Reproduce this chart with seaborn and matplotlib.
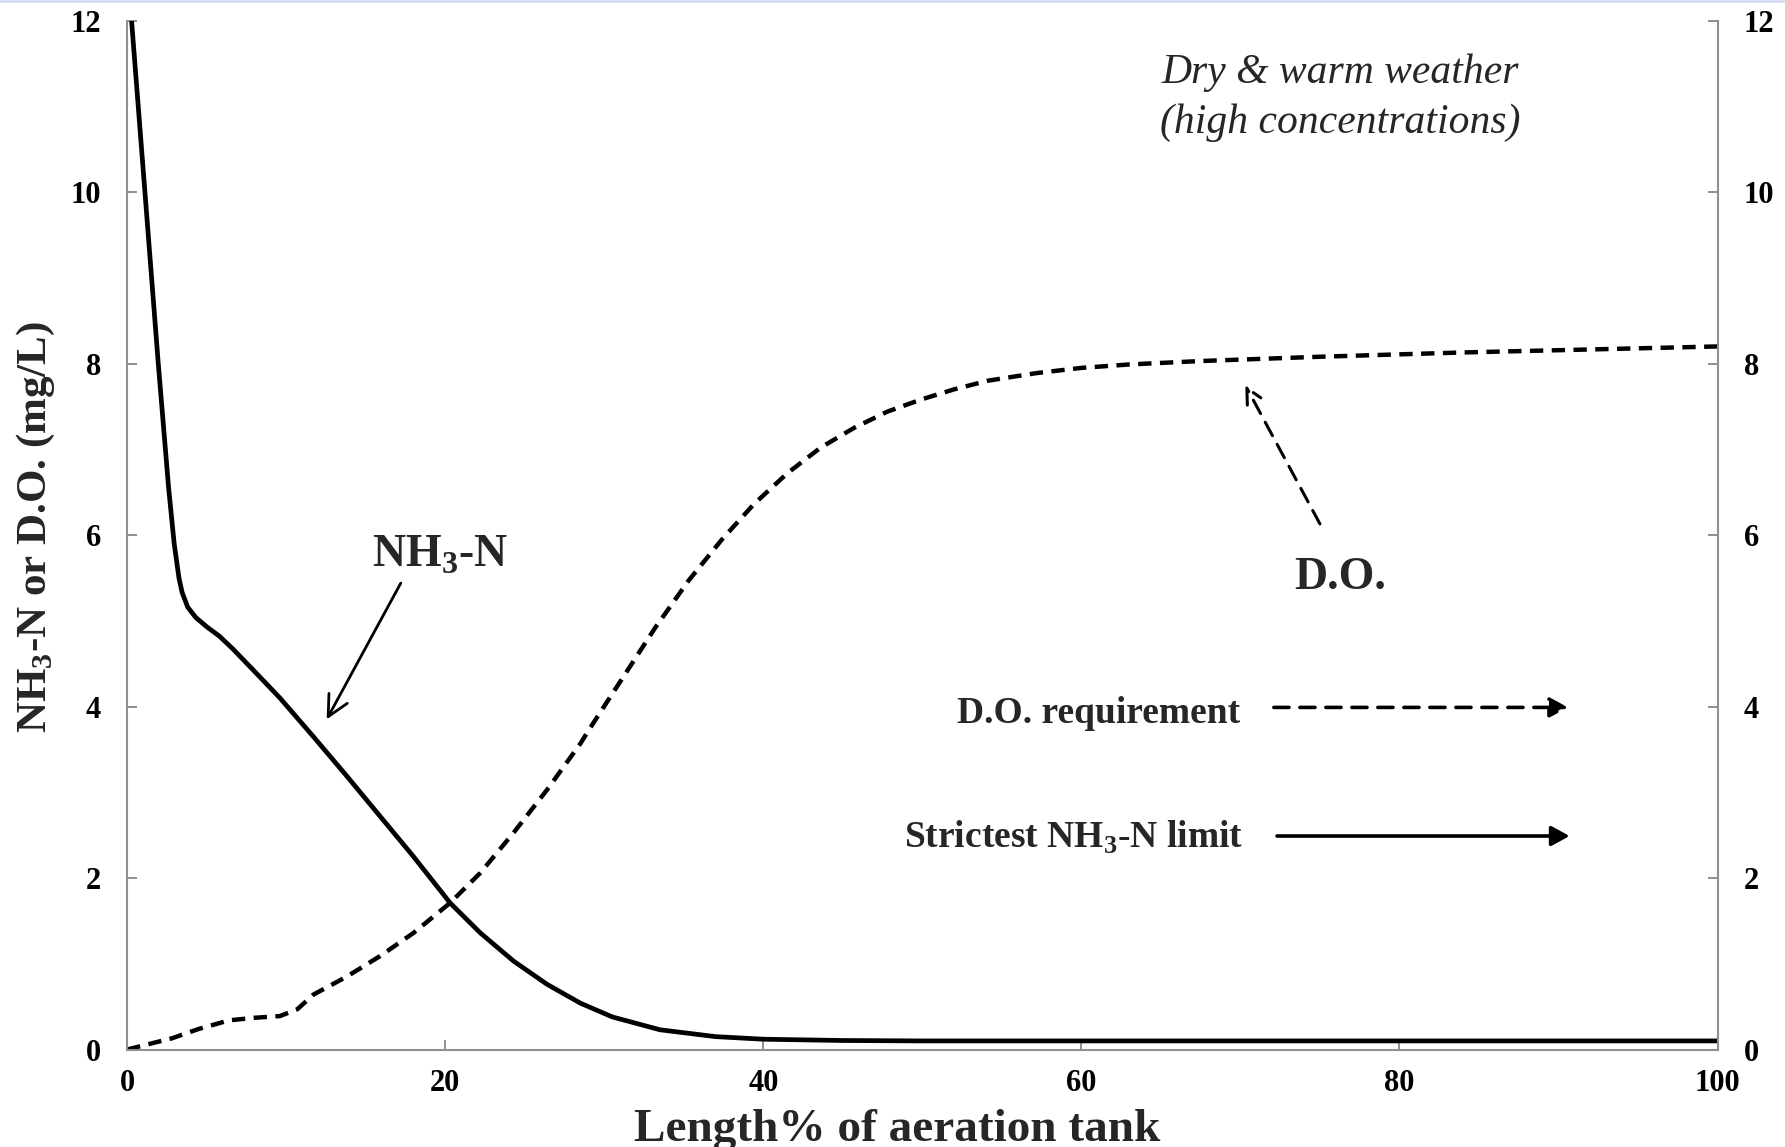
import numpy as np
import matplotlib
matplotlib.use("Agg")
import matplotlib.pyplot as plt
from matplotlib.lines import Line2D
import seaborn as sns

# NH3-N profile along the aeration tank (solid curve)
nh3_x = [0.27, 1.11, 1.95, 2.6, 2.95, 3.25, 3.45, 3.8, 4.3, 5.0, 5.8, 6.65, 7.9,
         9.6, 11.7, 13.8, 15.9, 18.0, 20.3, 22.2, 24.3, 26.4, 28.5, 30.5, 33.5,
         37.0, 40.0, 45.0, 50.0, 60.0, 80.0, 100.0]
nh3_y = [12.0, 10.0, 8.0, 6.55, 5.9, 5.5, 5.33, 5.16, 5.04, 4.93, 4.82, 4.67, 4.43,
         4.10, 3.65, 3.19, 2.72, 2.25, 1.71, 1.36, 1.03, 0.76, 0.54, 0.38, 0.23,
         0.15, 0.12, 0.105, 0.10, 0.10, 0.10, 0.10]

# D.O. profile (dashed curve)
do_x = [0.0, 1.5, 2.8, 4.5, 6.4, 8.0, 9.6, 10.7, 11.7, 13.8, 15.9, 18.0, 20.3,
        22.2, 24.3, 26.4, 28.5, 29.0, 31.1, 33.2, 35.3, 37.4, 39.4, 41.5, 43.6,
        45.7, 47.8, 49.9, 52.0, 54.1, 57.2, 60.0, 63.0, 67.5, 75.0, 84.0, 100.0]
do_y = [0.0, 0.07, 0.13, 0.24, 0.34, 0.37, 0.39, 0.47, 0.64, 0.85, 1.09, 1.36, 1.71,
        2.06, 2.53, 3.03, 3.57, 3.72, 4.32, 4.92, 5.47, 5.95, 6.36, 6.72, 7.02,
        7.25, 7.44, 7.58, 7.70, 7.80, 7.89, 7.95, 7.99, 8.03, 8.08, 8.13, 8.20]

x_ticks = [0, 20, 40, 60, 80, 100]
y_ticks = [0, 2, 4, 6, 8, 10, 12]

# annotation anchors (data coordinates)
nh3_label_pos = (19.67, 5.63)
nh3_arrow = ((17.2, 5.44), (12.54, 3.85))
do_label_pos = (76.3, 5.37)
do_arrow = ((75.0, 6.13), (70.3, 7.75))
weather_lines = ["Dry & warm weather", "(high concentrations)"]
weather_pos = [(76.3, 11.27), (76.3, 10.69)]
legend_do = ("D.O. requirement", (69.95, 3.81), (72.1, 90.6, 3.99))
legend_nh3 = ("Strictest NH$_\\mathbf{3}$-N limit", (70.15, 2.35), (72.3, 90.7, 2.49))

sns.set_style("white")
plt.rcParams["font.family"] = ["Liberation Serif", "DejaVu Serif"]
plt.rcParams["font.weight"] = "bold"
plt.rcParams["mathtext.fontset"] = "custom"
plt.rcParams["mathtext.rm"] = "Liberation Serif:bold"
plt.rcParams["mathtext.bf"] = "Liberation Serif:bold"

fig = plt.figure(figsize=(17.85, 11.47), dpi=100)
ax = fig.add_axes([0.0713, 0.085, 0.8909, 0.897])

sns.lineplot(x=nh3_x, y=nh3_y, ax=ax, color="black", linewidth=3.4)
sns.lineplot(x=do_x, y=do_y, ax=ax, color="black", linewidth=3.2)
ax.lines[-1].set_dashes([3.0, 1.9])

ax.set_xlim(0, 100)
ax.set_ylim(0, 12)
ax.set_xticks(x_ticks)
ax.set_yticks(y_ticks)

spine_col = "#8f8f8f"
ax.spines["top"].set_visible(False)
for side in ["left", "right", "bottom"]:
    ax.spines[side].set_visible(True)
    ax.spines[side].set_color(spine_col)
    ax.spines[side].set_linewidth(1.5)

ax.tick_params(axis="both", direction="in", length=7, width=1.4, color=spine_col,
               labelsize=22, labelcolor="black")
ax.tick_params(axis="y", left=True, right=True, labelleft=True, labelright=True, pad=19)
ax.tick_params(axis="x", bottom=True, pad=14)
for lbl in ax.get_xticklabels() + ax.get_yticklabels():
    lbl.set_fontweight("bold")

ax.set_xlabel("Length% of aeration tank", fontsize=34, fontweight="bold", va="baseline")
ax.xaxis.set_label_coords(0.484, -0.089)
ax.set_ylabel("NH$_\\mathbf{3}$-N or D.O. (mg/L)", fontsize=31, fontweight="bold", va="center")
ax.yaxis.set_label_coords(-0.0574, 0.508)

# curve labels with arrows
ax.text(*nh3_label_pos, "NH$_\\mathbf{3}$-N", fontsize=33, fontweight="bold",
        ha="center", va="baseline")
ax.annotate("", xy=nh3_arrow[1], xytext=nh3_arrow[0],
            arrowprops=dict(arrowstyle="->,head_length=0.6,head_width=0.3",
                            mutation_scale=25, lw=2.0, color="black",
                            shrinkA=0, shrinkB=0))
ax.text(*do_label_pos, "D.O.", fontsize=33, fontweight="bold", ha="center", va="baseline")
ax.annotate("", xy=do_arrow[1], xytext=do_arrow[0],
            arrowprops=dict(arrowstyle="->,head_length=0.5,head_width=0.25",
                            mutation_scale=22, lw=2.2, color="black",
                            linestyle=(0, (5, 3.2)), shrinkA=0, shrinkB=0))

for line, pos in zip(weather_lines, weather_pos):
    ax.text(*pos, line, fontsize=30, fontstyle="italic", fontweight="normal",
            ha="center", va="baseline")

# legend-like arrows
for (label, tpos, (x0, x1, ya)), ls in zip([legend_do, legend_nh3],
                                            [(0, (4.2, 3.0)), "-"]):
    ax.text(*tpos, label, fontsize=27, fontweight="bold", ha="right", va="baseline")
    ax.annotate("", xy=(x1, ya), xytext=(x0, ya),
                arrowprops=dict(arrowstyle="-|>,head_length=0.55,head_width=0.3",
                                mutation_scale=20, lw=2.6, color="black",
                                linestyle=ls, shrinkA=0, shrinkB=0))

# thin slide border at the very top
fig.add_artist(Line2D([0, 1], [0.999, 0.999], transform=fig.transFigure,
                      color="#d6dcf2", lw=2))

fig.savefig("out.png", dpi=100)
